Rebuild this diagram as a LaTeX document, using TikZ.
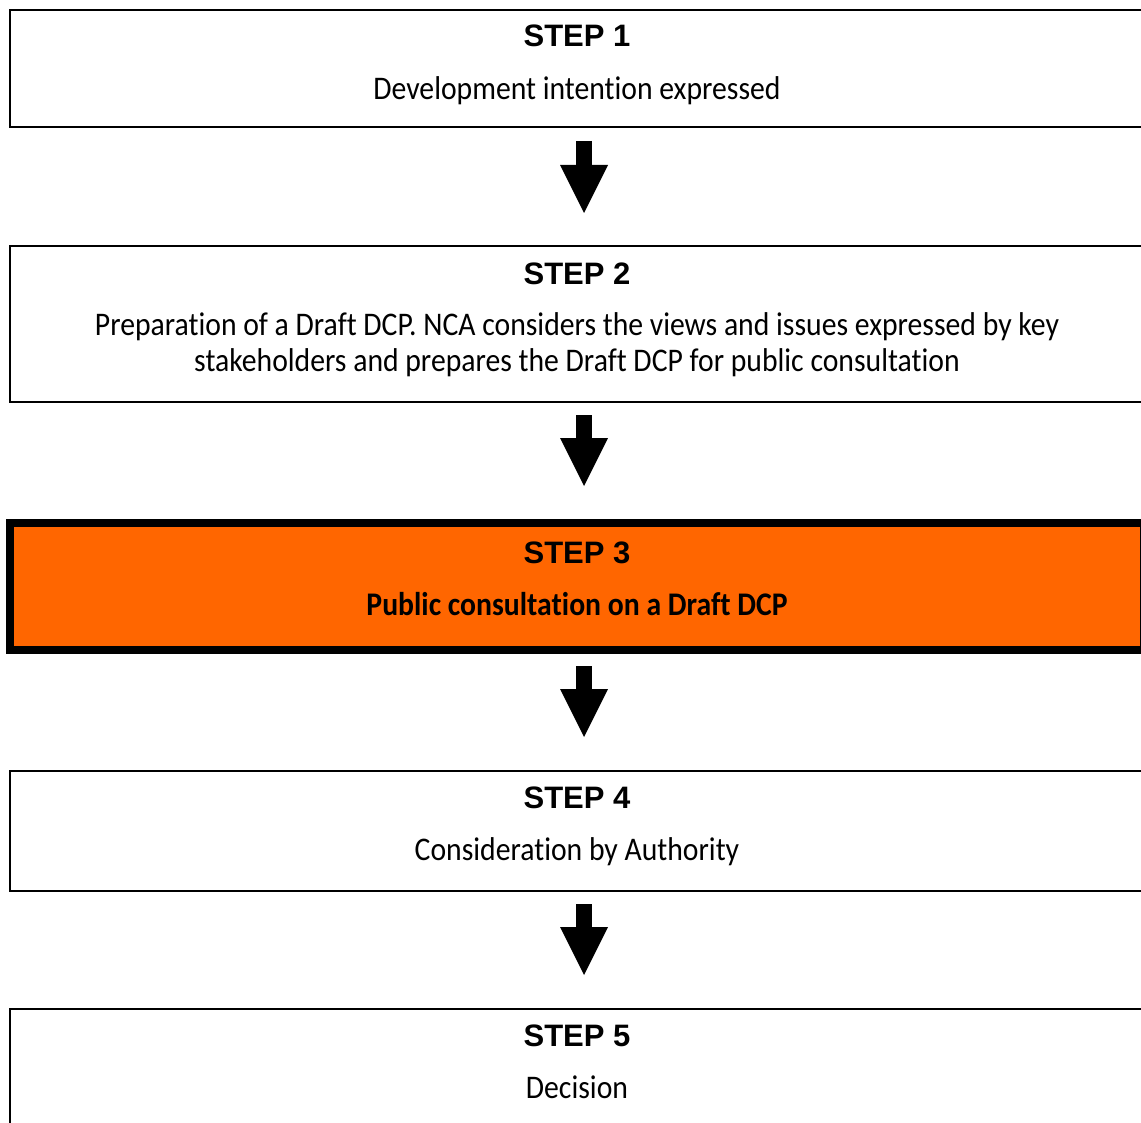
\documentclass[tikz,border=0pt]{standalone}
\usepackage{fontspec}
\setmainfont{Carlito}[FakeStretch=0.9,Ligatures=NoCommon]
\newfontfamily\headfont{Liberation Sans}
\usepackage{tikz}
\usetikzlibrary{arrows.meta,calc,positioning}
\definecolor{consultorange}{HTML}{FF6600}
\tikzset{stepbox/.style={draw,line width=2pt,minimum width=1134pt,inner sep=0pt},
	steptitle/.style={anchor=base,inner sep=0pt,font=\headfont\bfseries\fontsize{31}{35}\selectfont},
	steptext/.style={anchor=base,inner sep=0pt,align=center,font=\fontsize{33}{36}\selectfont},
	flow/.style={line width=16pt,-{Triangle[length=48pt,width=48pt,line width'=0pt]}}}

\begin{document}
\begin{tikzpicture}[x=1pt,y=-1pt]
	\useasboundingbox (0,0) rectangle (1141,1123);
	\clip (0,0) rectangle (1141,1123);
	
	\node[stepbox,minimum height=117pt] (s1) at (577,68.5) {};
	\node[stepbox,minimum height=156pt] (s2) at (577,324) {};
	\node[stepbox,line width=8pt,fill=consultorange,minimum height=127pt] (s3) at (577,586.5) {};
	\node[stepbox,minimum height=120pt] (s4) at (577,830.5) {};
	\node[stepbox,minimum height=140pt] (s5) at (577,1079) {};
	
	\node[steptitle] (t1) at ([yshift=-38pt]s1.north) {STEP 1};
	\node[steptext] (d1) at ([yshift=-91pt]s1.north) {Development intention expressed};
	
	\node[steptitle] (t2) at ([yshift=-40pt]s2.north) {STEP 2};
	\node[steptext] (d2) at ([yshift=-127pt]s2.north) {Preparation of a Draft DCP. NCA considers the views and issues expressed by key\\stakeholders and prepares the Draft DCP for public consultation};
	
	\node[steptitle] (t3) at ([yshift=-44pt]s3.north) {STEP 3};
	\node[steptext,font=\bfseries\fontsize{33}{36}\selectfont] (d3) at ([yshift=-96pt]s3.north) {Public consultation on a Draft DCP};
	
	\node[steptitle] (t4) at ([yshift=-39pt]s4.north) {STEP 4};
	\node[steptext] (d4) at ([yshift=-90.5pt]s4.north) {Consideration by Authority};
	
	\node[steptitle] (t5) at ([yshift=-38pt]s5.north) {STEP 5};
	\node[steptext] (d5) at ([yshift=-90pt]s5.north) {Decision};
	
	\draw[flow] ([xshift=7pt,yshift=-13pt]s1.south) -- ([xshift=7pt,yshift=32pt]s2.north);
	\draw[flow] ([xshift=7pt,yshift=-12pt]s2.south) -- ([xshift=7pt,yshift=33pt]s3.north);
	\draw[flow] ([xshift=7pt,yshift=-12pt]s3.south) -- ([xshift=7pt,yshift=32.5pt]s4.north);
	\draw[flow] ([xshift=7pt,yshift=-12.5pt]s4.south) -- ([xshift=7pt,yshift=33pt]s5.north);
\end{tikzpicture}
\end{document}
